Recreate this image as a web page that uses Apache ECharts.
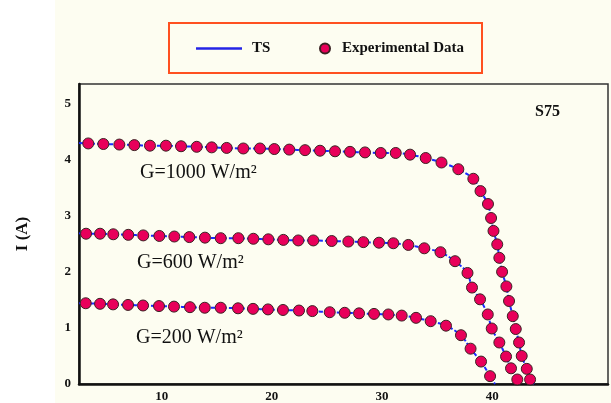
<!DOCTYPE html>
<html>
<head>
<meta charset="utf-8">
<style>html,body{margin:0;padding:0;background:#fdfdf1;}#c{width:611px;height:403px;}</style>
<script src="https://cdn.jsdelivr.net/npm/echarts@6/dist/echarts.min.js"></script>
</head>
<body>
<div id="c"></div>
<script>
var exp1000 = [[3.34,4.29],[4.71,4.28],[6.16,4.27],[7.52,4.26],[8.94,4.25],[10.39,4.25],[11.76,4.24],[13.18,4.23],[14.54,4.22],[15.90,4.21],[17.41,4.20],[18.92,4.20],[20.22,4.19],[21.58,4.18],[23.01,4.17],[24.37,4.16],[25.73,4.15],[27.09,4.14],[28.45,4.13],[29.88,4.12],[31.24,4.12],[32.54,4.09],[33.96,4.03],[35.39,3.95],[36.92,3.83],[38.28,3.66],[38.93,3.44],[39.61,3.21],[39.89,2.96],[40.11,2.73],[40.45,2.49],[40.64,2.25],[40.89,2.00],[41.28,1.74],[41.52,1.48],[41.86,1.21],[42.13,0.98],[42.43,0.74],[42.67,0.50],[43.13,0.27],[43.43,0.08]];
var exp600 = [[3.14,2.68],[4.41,2.68],[5.61,2.67],[6.97,2.66],[8.33,2.65],[9.79,2.64],[11.15,2.63],[12.51,2.62],[13.93,2.61],[15.36,2.60],[16.96,2.60],[18.32,2.59],[19.68,2.58],[21.04,2.57],[22.40,2.56],[23.76,2.56],[25.43,2.55],[26.94,2.54],[28.30,2.53],[29.72,2.52],[31.02,2.51],[32.38,2.48],[33.83,2.42],[35.30,2.35],[36.62,2.19],[37.75,1.98],[38.16,1.72],[38.89,1.51],[39.59,1.24],[39.95,0.99],[40.64,0.74],[41.25,0.49],[41.70,0.28],[42.27,0.08]];
var exp200 = [[3.11,1.44],[4.41,1.43],[5.59,1.42],[6.95,1.41],[8.31,1.40],[9.76,1.39],[11.12,1.38],[12.57,1.37],[13.91,1.36],[15.36,1.36],[16.93,1.35],[18.29,1.34],[19.65,1.33],[21.01,1.32],[22.46,1.31],[23.67,1.30],[25.25,1.28],[26.61,1.27],[27.91,1.26],[29.27,1.25],[30.57,1.24],[31.78,1.22],[33.08,1.18],[34.41,1.12],[35.80,1.04],[37.16,0.87],[38.03,0.63],[38.98,0.40],[39.80,0.14]];
// TS model line end points (start at left axis, end at I = 0)
var tsStart = {g1000:[2.5,4.30], g600:[2.5,2.69], g200:[2.5,1.44]};
var tsEnd = {g1000:[43.8,0], g600:[42.5,0], g200:[40.25,0]};
var xTicks = [10,20,30,40];
var yTicks = [0,1,2,3,4,5];
var curveLabels = ['G=1000 W/m²','G=600 W/m²','G=200 W/m²'];

var chart = echarts.init(document.getElementById('c'), null, {renderer:'canvas'});
var serif = 'Liberation Serif, Times New Roman, serif';
var lineStyle = {color:'#1a2bff', width:2, type:[4,2]};
var ptStyle = {color:'#e8005a', borderColor:'#3b2323', borderWidth:1, opacity:1};
function ts(key, pts){ return [tsStart[key]].concat(pts, [tsEnd[key]]); }
function lineSeries(data){ return {name:'TS', type:'line', data:data, showSymbol:false, symbol:'none', smooth:0.3, lineStyle:lineStyle, z:1, silent:true, animation:false}; }
function ptSeries(data){ return {name:'Experimental Data', type:'scatter', data:data, symbolSize:11, itemStyle:ptStyle, z:2, silent:true, animation:false}; }
var legendText = {fontFamily:serif, fontWeight:'bold', fontSize:15, color:'#111'};
chart.setOption({
  backgroundColor:'#fdfdf1',
  animation:false,
  grid:{left:79, right:3, top:84, bottom:19, show:true, borderColor:'#333', borderWidth:1.5, outerBoundsMode:'none', containLabel:false},
  legend:[
    {data:['TS'], left:191, top:36, icon:'rect', itemWidth:46, itemHeight:2.5, selectedMode:false,
     itemStyle:{color:'#2424e6', borderWidth:0}, textStyle:Object.assign({padding:[0,0,0,5]}, legendText)},
    {data:['Experimental Data'], left:314, top:36, itemWidth:10, itemHeight:10, selectedMode:false,
     itemStyle:{opacity:1}, textStyle:Object.assign({padding:[0,0,0,7]}, legendText)}
  ],
  xAxis:{type:'value', min:2.5, max:50.5,
    axisLine:{show:true, onZero:false, lineStyle:{color:'#111', width:2.5}},
    axisTick:{show:false}, splitLine:{show:false},
    axisLabel:{customValues:xTicks, margin:6, fontFamily:serif, fontWeight:'bold', fontSize:13, color:'#111'}},
  yAxis:{type:'value', min:0, max:5.35,
    name:'I (A)', nameLocation:'middle', nameGap:48, nameRotate:90,
    nameTextStyle:{fontFamily:serif, fontWeight:'bold', fontSize:17, color:'#111'},
    axisLine:{show:true, onZero:false, lineStyle:{color:'#111', width:2.5}},
    axisTick:{show:false}, splitLine:{show:false},
    axisLabel:{customValues:yTicks, margin:8, fontFamily:serif, fontWeight:'bold', fontSize:13, color:'#111'}},
  graphic:[
    {type:'rect', z:-10, shape:{x:0, y:0, width:55, height:403}, style:{fill:'#ffffff'}},
    {type:'rect', shape:{x:169, y:23, width:313, height:50}, style:{fill:'none', stroke:'#ff5020', lineWidth:2}},
    {type:'text', x:140, y:173, style:{text:curveLabels[0], font:'20px '+serif, fill:'#111', verticalAlign:'middle'}},
    {type:'text', x:137, y:263, style:{text:curveLabels[1], font:'20px '+serif, fill:'#111', verticalAlign:'middle'}},
    {type:'text', x:136, y:338, style:{text:curveLabels[2], font:'20px '+serif, fill:'#111', verticalAlign:'middle'}},
    {type:'text', x:535, y:112, style:{text:'S75', font:'bold 16px '+serif, fill:'#111', verticalAlign:'middle'}}
  ],
  series:[
    lineSeries(ts('g1000', exp1000)), lineSeries(ts('g600', exp600)), lineSeries(ts('g200', exp200)),
    ptSeries(exp1000), ptSeries(exp600), ptSeries(exp200)
  ]
});
</script>
</body>
</html>
